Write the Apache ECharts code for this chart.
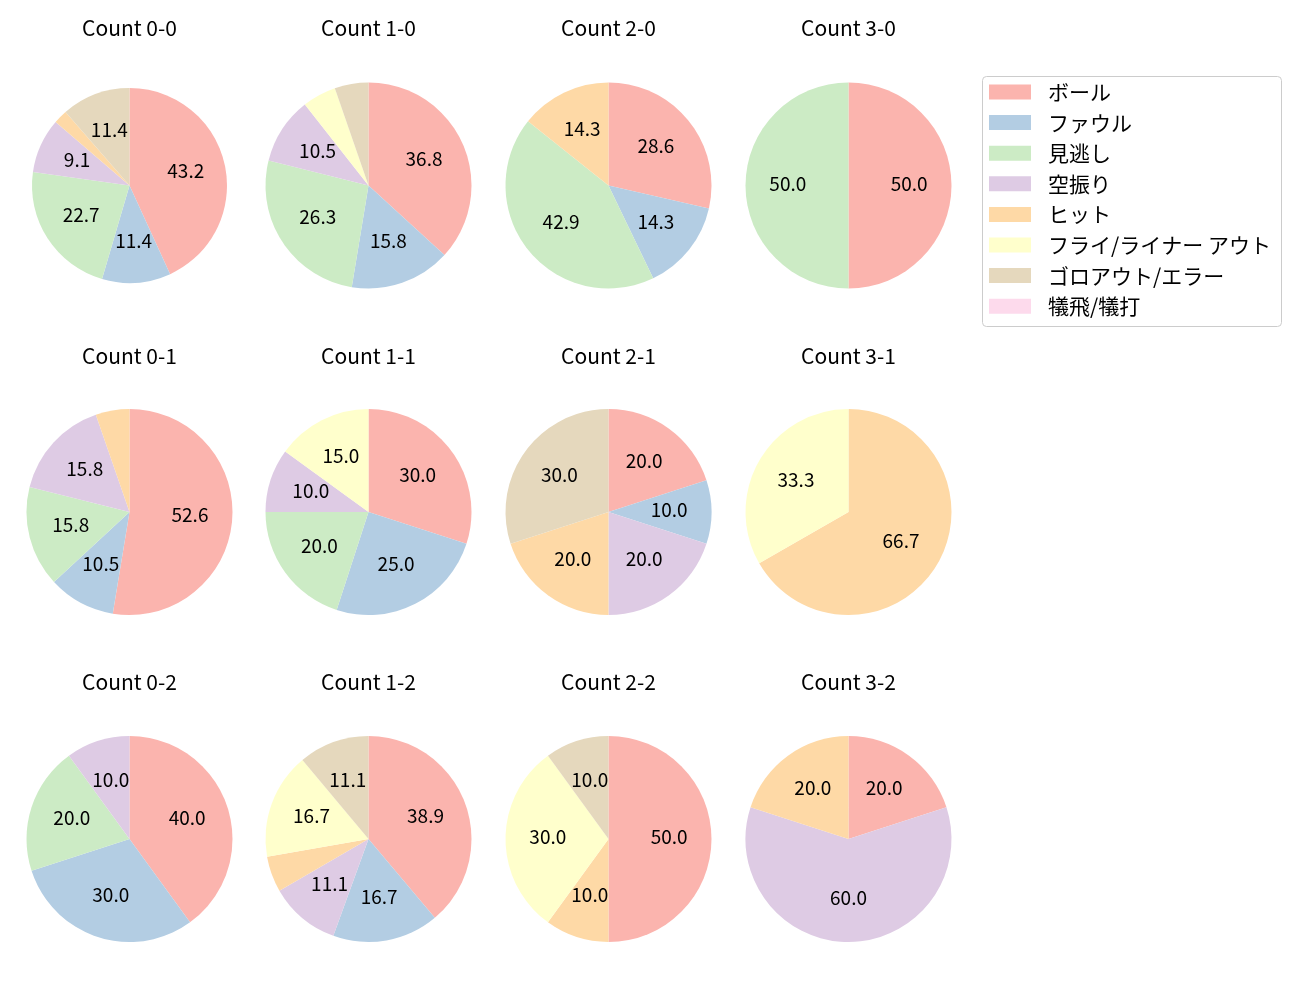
<!DOCTYPE html>
<html>
<head>
<meta charset="utf-8">
<script src="https://cdn.jsdelivr.net/npm/echarts@6/dist/echarts.min.js"></script>
<style>html,body{margin:0;padding:0;background:#fff}#c{width:1300px;height:1000px}</style>
</head>
<body>
<div id="c"></div>
<script>
const categories = ['ボール','ファウル','見逃し','空振り','ヒット','フライ/ライナー アウト','ゴロアウト/エラー','犠飛/犠打'];
const colors = ['#fbb4ae','#b3cde3','#ccebc5','#decbe4','#fed9a6','#ffffcc','#e5d8bd','#fddaec'];
const titles = ['Count 0-0','Count 1-0','Count 2-0','Count 3-0',
                'Count 0-1','Count 1-1','Count 2-1','Count 3-1',
                'Count 0-2','Count 1-2','Count 2-2','Count 3-2'];
// percentages per pie, in category order
const c00 = [43.2, 11.4, 22.7, 9.1, 2.3, 0, 11.4, 0];
const c10 = [36.8, 15.8, 26.3, 10.5, 0, 5.3, 5.3, 0];
const c20 = [28.6, 14.3, 42.9, 0, 14.3, 0, 0, 0];
const c30 = [50.0, 0, 50.0, 0, 0, 0, 0, 0];
const c01 = [52.6, 10.5, 15.8, 15.8, 5.3, 0, 0, 0];
const c11 = [30.0, 25.0, 20.0, 10.0, 0, 15.0, 0, 0];
const c21 = [20.0, 10.0, 0, 20.0, 20.0, 0, 30.0, 0];
const c31 = [0, 0, 0, 0, 66.7, 33.3, 0, 0];
const c02 = [40.0, 30.0, 20.0, 10.0, 0, 0, 0, 0];
const c12 = [38.9, 16.7, 0, 11.1, 5.6, 16.7, 11.1, 0];
const c22 = [50.0, 0, 0, 0, 10.0, 30.0, 10.0, 0];
const c32 = [20.0, 0, 0, 60.0, 20.0, 0, 0, 0];
const pies = [c00,c10,c20,c30,c01,c11,c21,c31,c02,c12,c22,c32];

const colX = [129.5, 368.5, 608.5, 848.5];
const rowY = [185.5, 512, 839];
const titleY = [28.5, 356, 682];
const FONT = 'Noto Sans CJK JP';

const series = [];
const title = [];
pies.forEach((vals, i) => {
  const cx = colX[i % 4], cy = rowY[Math.floor(i / 4)];
  const R = i === 0 ? 97.5 : 103;
  const data = categories.map((n, k) => ({name: n, value: vals[k], itemStyle: {color: colors[k]}}));
  series.push({
    type: 'pie', center: [cx, cy], radius: [0, R], startAngle: 90, clockwise: true,
    data: data, label: {show: false}, labelLine: {show: false},
    itemStyle: {borderWidth: 0}, emphasis: {disabled: true}, silent: true,
    avoidLabelOverlap: false, stillShowZeroSum: false
  });
  series.push({
    type: 'pie', center: [cx, cy], radius: [0.12 * R, R], startAngle: 90, clockwise: true,
    data: categories.map((n, k) => ({name: n + ' ', value: vals[k]})),
    itemStyle: {color: 'rgba(0,0,0,0)', borderWidth: 0},
    label: {show: true, position: 'inside', color: '#000', fontFamily: FONT, fontSize: 19, offset: [0, -2],
      formatter: p => p.percent >= 7 ? p.value.toFixed(1) : ''},
    labelLine: {show: false}, emphasis: {disabled: true}, silent: true,
    avoidLabelOverlap: false, stillShowZeroSum: false
  });
  title.push({text: titles[i], left: cx, top: titleY[Math.floor(i / 4)] - 12, textAlign: 'center', padding: 0,
    textStyle: {fontFamily: FONT, fontSize: 21, fontWeight: 'normal', color: '#000', lineHeight: 24}});
});

const chart = echarts.init(document.getElementById('c'), null, {renderer: 'canvas'});
chart.setOption({
  animation: false,
  title: title,
  legend: {
    orient: 'vertical', left: 989, top: 81.5, padding: 0,
    data: categories, itemWidth: 42, itemHeight: 15, itemGap: 9.6,
    icon: 'rect', selectedMode: false,
    textStyle: {fontFamily: FONT, fontSize: 21, color: '#000', padding: [0, 0, 0, 12]}
  },
  graphic: [{type: 'rect', shape: {x: 982.5, y: 76.5, width: 299, height: 250, r: 4},
    style: {fill: 'rgba(255,255,255,0.8)', stroke: '#cccccc', lineWidth: 1}, z: -1}],
  series: series
});
</script>
</body>
</html>
